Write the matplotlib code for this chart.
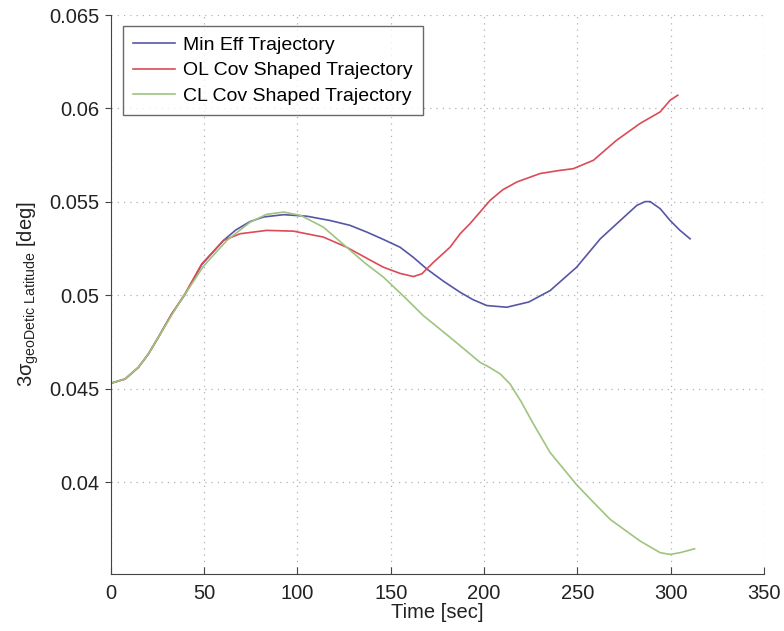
import numpy as np
import matplotlib.pyplot as plt

plt.switch_backend('Agg')
plt.rcParams['font.family'] = ['Liberation Sans', 'DejaVu Sans']
plt.rcParams['mathtext.fontset'] = 'custom'
plt.rcParams['mathtext.rm'] = 'Liberation Sans'

# Values
t_min_eff = [0, 7.7, 14.8, 20.2, 25.5, 32.7, 39.8, 48.8, 60.4, 67, 74.6, 82, 92.7, 105, 117.5,
             128.2, 137.2, 146, 155, 162, 169.3, 178, 187.2, 194, 201.5, 212.2, 224, 235.4,
             249.6, 262.3, 273, 281.9, 286.3, 289, 294.4, 299.7, 305, 310.4]
y_min_eff = [0.0453, 0.04553, 0.04615, 0.04687, 0.04776, 0.04901, 0.05005, 0.05165, 0.05294,
             0.0535, 0.05395, 0.0542, 0.05432, 0.05424, 0.05401, 0.05375, 0.05339, 0.053,
             0.05258, 0.05205, 0.05142, 0.05078, 0.05017, 0.04978, 0.04946, 0.04937, 0.04965,
             0.05026, 0.05151, 0.05303, 0.05401, 0.05482, 0.05502, 0.05502, 0.05464, 0.05401,
             0.05348, 0.05303]

t_ol = [0, 7.7, 14.8, 20.2, 25.5, 32.7, 39.8, 48.8, 60.4, 69.3, 83.6, 97.9, 114, 126.4, 137,
        146.1, 155, 162.2, 166.7, 173, 181.8, 187.2, 192.5, 203.3, 210, 217.6, 230, 240,
        247.8, 258.6, 271, 283.6, 294.4, 299.7, 303.8]
y_ol = [0.0453, 0.04553, 0.04615, 0.04687, 0.04776, 0.04901, 0.05009, 0.05169, 0.05294,
        0.0533, 0.05348, 0.05344, 0.05312, 0.05258, 0.052, 0.05151, 0.05118, 0.05101,
        0.05116, 0.05178, 0.05258, 0.0533, 0.05384, 0.05509, 0.05565, 0.05607, 0.05652,
        0.05668, 0.05678, 0.05723, 0.0583, 0.0592, 0.05982, 0.06044, 0.06071]

t_cl = [0, 7.7, 14.8, 20.2, 25.5, 32.7, 37, 43, 49.6, 54.1, 62.2, 74.7, 83.6, 92.7, 101.8,
        114, 126.4, 136, 146.1, 157, 167.5, 181.8, 197.9, 203, 208.7, 214, 220, 226.5, 235.4,
        249.4, 258, 267.6, 283.7, 294.4, 299.7, 305, 312.8]
y_cl = [0.0453, 0.04553, 0.04615, 0.04687, 0.04776, 0.04895, 0.04965, 0.05055, 0.05155, 0.05205,
        0.05294, 0.05392, 0.05434, 0.05446, 0.05428, 0.05365, 0.05258, 0.05175, 0.05098,
        0.04995, 0.04892, 0.04776, 0.04642, 0.04615, 0.0458, 0.04526, 0.0443, 0.04312,
        0.0416, 0.0399, 0.039, 0.03802, 0.03686, 0.03624, 0.03615, 0.03624, 0.03645]

labels = ['Min Eff Trajectory', 'OL Cov Shaped Trajectory', 'CL Cov Shaped Trajectory']
colors = ['#5656a6', '#dc4a56', '#9ec47e']

fig = plt.figure(figsize=(7.84, 6.31), dpi=100)
ax = fig.add_axes([0.1412, 0.0903, 0.8333, 0.8859])

ax.plot(t_min_eff, y_min_eff, color=colors[0], lw=1.2, label=labels[0])
ax.plot(t_ol, y_ol, color=colors[1], lw=1.2, label=labels[1])
ax.plot(t_cl, y_cl, color=colors[2], lw=1.2, label=labels[2])

ax.set_xlim(0, 350)
ax.set_ylim(0.0351, 0.065)
ax.set_xticks(np.arange(0, 351, 50))
ax.set_yticks([0.04, 0.045, 0.05, 0.055, 0.06, 0.065])
ax.set_yticklabels(['0.04', '0.045', '0.05', '0.055', '0.06', '0.065'])

ax.grid(True, linestyle=(0, (1, 4)), color='#b0b0b0', linewidth=0.9)
ax.spines['top'].set_visible(False)
ax.spines['right'].set_visible(False)
for s in ['left', 'bottom']:
    ax.spines[s].set_color('#444444')
ax.tick_params(axis='x', direction='in', length=5, labelsize=14.5, colors='#444444',
               labelcolor='#222222', pad=7)
ax.tick_params(axis='y', direction='out', length=4, labelsize=14.5, colors='#444444',
               labelcolor='#222222', pad=4)

ax.set_xlabel('Time [sec]', fontsize=14.5, color='#222222', labelpad=0)
ax.set_ylabel(r'3σ$_{\mathregular{geoDetic\ Latitude}}$ [deg]', fontsize=14.5,
              color='#222222', labelpad=6)

leg = ax.legend(loc='upper left', bbox_to_anchor=(0.0188, 0.980), fontsize=14,
                frameon=True, fancybox=False, borderaxespad=0, handlelength=2.2,
                labelspacing=0.42, borderpad=0.5, handletextpad=0.4)
leg.get_frame().set_edgecolor('#444444')
leg.get_frame().set_linewidth(1.0)

fig.savefig('out.png', dpi=100)
